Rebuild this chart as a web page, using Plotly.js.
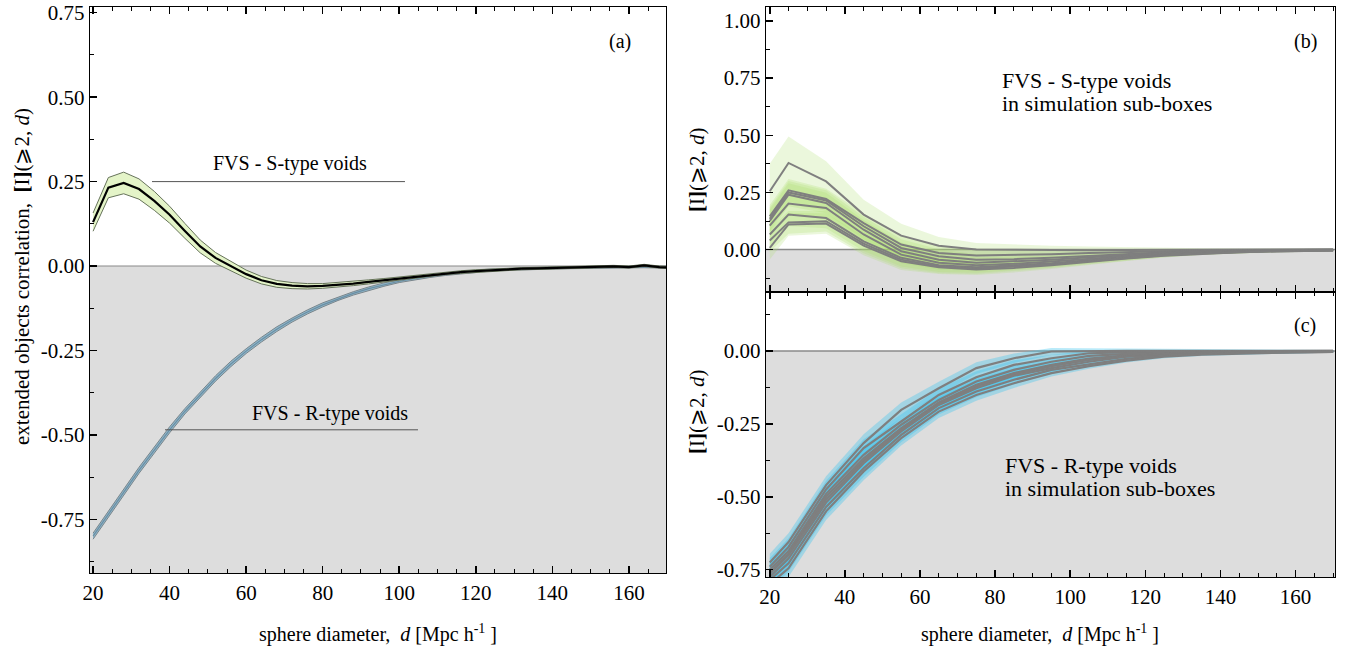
<!DOCTYPE html>
<html>
<head>
<meta charset="utf-8">
<script src="https://cdn.plot.ly/plotly-3.0.1.min.js"></script>
<style>html,body{margin:0;padding:0;background:#fff;}#chart{width:1349px;height:648px;}</style>
</head>
<body>
<div id="chart"></div>
<script>
// ---------- Panel (a): full-volume statistics ----------
const dA = [20,24,28,32,36,40,44,48,52,56,60,64,68,72,76,80,84,88,92,96,100,104,108,112,116,120,124,128,132,136,140,144,148,152,156,160,164,168,170];
const sMean = [0.13,0.232,0.246,0.228,0.193,0.152,0.104,0.058,0.024,0.0,-0.024,-0.042,-0.053,-0.058,-0.060,-0.059,-0.056,-0.052,-0.047,-0.042,-0.037,-0.032,-0.026,-0.021,-0.018,-0.015,-0.012,-0.010,-0.008,-0.007,-0.006,-0.005,-0.004,-0.003,-0.001,-0.003,0.002,-0.003,-0.004];
const sErr = [0.027,0.030,0.032,0.030,0.028,0.025,0.022,0.019,0.016,0.014,0.012,0.011,0.010,0.009,0.008,0.007,0.007,0.006,0.006,0.005,0.005,0.005,0.004,0.004,0.004,0.004,0.004,0.003,0.003,0.003,0.003,0.003,0.003,0.003,0.003,0.003,0.003,0.003,0.003];
const rMean = [-0.80,-0.735,-0.67,-0.605,-0.545,-0.485,-0.43,-0.38,-0.333,-0.29,-0.252,-0.218,-0.187,-0.16,-0.136,-0.115,-0.097,-0.081,-0.067,-0.055,-0.045,-0.037,-0.030,-0.024,-0.019,-0.015,-0.012,-0.010,-0.008,-0.007,-0.006,-0.005,-0.004,-0.003,-0.002,-0.002,-0.002,-0.003,-0.003];
const rErr = [0.009,0.009,0.009,0.009,0.009,0.009,0.008,0.008,0.008,0.008,0.007,0.007,0.007,0.006,0.006,0.006,0.005,0.005,0.005,0.005,0.004,0.004,0.004,0.004,0.004,0.003,0.003,0.003,0.003,0.003,0.003,0.003,0.003,0.003,0.003,0.003,0.003,0.003,0.003];

// ---------- Panels (b), (c): simulation sub-boxes ----------
const dSub = [20,25,35,45,55,65,75,85,95,105,115,125,135,145,155,165,170];
const sBox = [
  [0.255,0.379,0.298,0.153,0.061,0.017,0.0,-0.002,-0.003,-0.003,-0.002,-0.002,-0.001,0.0,0.0,0.001,0.001],
  [0.145,0.259,0.221,0.116,0.022,-0.015,-0.026,-0.024,-0.020,-0.015,-0.010,-0.007,-0.004,-0.003,-0.002,-0.001,-0.001],
  [0.134,0.250,0.215,0.102,0.007,-0.029,-0.044,-0.042,-0.036,-0.027,-0.019,-0.012,-0.008,-0.005,-0.003,-0.002,-0.002],
  [0.125,0.240,0.204,0.087,-0.007,-0.044,-0.058,-0.052,-0.044,-0.034,-0.024,-0.016,-0.010,-0.006,-0.004,-0.003,-0.002],
  [0.105,0.201,0.182,0.066,-0.022,-0.058,-0.068,-0.062,-0.052,-0.040,-0.029,-0.020,-0.013,-0.008,-0.005,-0.003,-0.003],
  [0.066,0.153,0.138,0.036,-0.036,-0.068,-0.077,-0.070,-0.060,-0.047,-0.034,-0.023,-0.015,-0.010,-0.006,-0.004,-0.004],
  [0.040,0.119,0.124,0.026,-0.044,-0.073,-0.083,-0.075,-0.064,-0.050,-0.037,-0.025,-0.017,-0.011,-0.007,-0.005,-0.004],
  [0.007,0.110,0.114,0.017,-0.051,-0.077,-0.087,-0.080,-0.068,-0.053,-0.039,-0.027,-0.018,-0.012,-0.008,-0.005,-0.004]
];
const sBoxErrTop = [0.12,0.116,0.088,0.065,0.052,0.038,0.029,0.024,0.020,0.016,0.012,0.009,0.007,0.005,0.004,0.004,0.004];
const sBoxErr = [0.05,0.050,0.045,0.042,0.038,0.030,0.024,0.020,0.017,0.014,0.011,0.008,0.006,0.005,0.004,0.003,0.003];
const rBox = [
  [-0.725,-0.655,-0.460,-0.316,-0.202,-0.128,-0.059,-0.025,-0.002,0.0,0.0,0.0,0.0,0.0,0.0,0.0,0.0],
  [-0.740,-0.672,-0.475,-0.333,-0.242,-0.151,-0.090,-0.048,-0.025,-0.008,-0.005,-0.003,-0.002,-0.001,-0.001,0.0,0.0],
  [-0.750,-0.686,-0.490,-0.356,-0.253,-0.168,-0.105,-0.065,-0.037,-0.017,-0.010,-0.006,-0.004,-0.003,-0.002,-0.001,-0.001],
  [-0.760,-0.695,-0.500,-0.368,-0.265,-0.177,-0.116,-0.076,-0.048,-0.026,-0.015,-0.009,-0.006,-0.004,-0.003,-0.002,-0.002],
  [-0.765,-0.700,-0.510,-0.377,-0.270,-0.182,-0.122,-0.080,-0.052,-0.031,-0.018,-0.011,-0.007,-0.005,-0.003,-0.002,-0.002],
  [-0.775,-0.712,-0.520,-0.385,-0.276,-0.185,-0.128,-0.085,-0.059,-0.037,-0.020,-0.013,-0.008,-0.005,-0.004,-0.003,-0.002],
  [-0.785,-0.728,-0.535,-0.402,-0.288,-0.196,-0.139,-0.099,-0.065,-0.045,-0.027,-0.016,-0.010,-0.007,-0.005,-0.003,-0.003],
  [-0.800,-0.745,-0.550,-0.413,-0.299,-0.208,-0.151,-0.111,-0.076,-0.052,-0.033,-0.020,-0.013,-0.009,-0.006,-0.004,-0.003]
];
const rBoxErr = [0.03,0.03,0.03,0.03,0.025,0.022,0.02,0.016,0.012,0.009,0.007,0.005,0.004,0.004,0.003,0.003,0.003];

// ---------- tick labels ----------
const xTickVals = [20,40,60,80,100,120,140,160];
const xTickText = ['20','40','60','80','100','120','140','160'];
const yTickValsA = [-0.75,-0.5,-0.25,0,0.25,0.5,0.75];
const yTickTextA = ['-0.75','-0.50','-0.25','0.00','0.25','0.50','0.75'];
const yTickValsB = [0,0.25,0.5,0.75,1.0];
const yTickTextB = ['0.00','0.25','0.50','0.75','1.00'];
const yTickValsC = [-0.75,-0.5,-0.25,0];
const yTickTextC = ['-0.75','-0.50','-0.25','0.00'];

const FONT = 'Liberation Serif, Times New Roman, serif';
const traces = [];

function band(x, mean, err, xa, ya, fill, edge, edgeW) {
  const up = mean.map((v,i)=>v+err[i]);
  const lo = mean.map((v,i)=>v-err[i]);
  traces.push({x:x, y:up, xaxis:xa, yaxis:ya, mode:'lines', line:{color:edge, width:edgeW}, hoverinfo:'skip', showlegend:false});
  traces.push({x:x, y:lo, xaxis:xa, yaxis:ya, mode:'lines', line:{color:edge, width:edgeW}, fill:'tonexty', fillcolor:fill, hoverinfo:'skip', showlegend:false});
}
function line(x, y, xa, ya, color, w) {
  traces.push({x:x, y:y, xaxis:xa, yaxis:ya, mode:'lines', line:{color:color, width:w}, hoverinfo:'skip', showlegend:false});
}

// panel (a)
band(dA, rMean, rErr, 'x', 'y', '#8fb8cc', '#7a858b', 1);
line(dA, rMean, 'x', 'y', '#6b8ea3', 1.2);
band(dA, sMean, sErr, 'x', 'y', '#e4f4c8', '#66735a', 1);
line(dA, sMean, 'x', 'y', '#000000', 2.2);

// panel (b)
sBox.forEach((s,k)=>{
  band(dSub, s, k===0 ? sBoxErrTop : sBoxErr, 'x2', 'y2', 'rgba(170,222,110,0.24)', 'rgba(0,0,0,0)', 0);
});
sBox.forEach(s=>line(dSub, s, 'x2', 'y2', '#7f7f7f', 2));

// panel (c)
rBox.forEach(s=>{
  band(dSub, s, rBoxErr, 'x3', 'y3', 'rgba(60,198,238,0.36)', 'rgba(0,0,0,0)', 0);
});
rBox.forEach(s=>line(dSub, s, 'x3', 'y3', '#7f7f7f', 2.2));

const W = 1349, H = 648;
const px = v => v / W, py = v => 1 - v / H;

const tickFont = {family: FONT, size: 21, color: '#000'};
function xAxis(dom, anchor, range, showLabels) {
  return {domain: dom, anchor: anchor, range: range, showgrid: false, zeroline: false,
    showline: true, linecolor: '#000', linewidth: 1.3, mirror: 'ticks',
    ticks: 'inside', ticklen: 7, tickwidth: 1.5, tickcolor: '#000',
    tickmode: 'array', tickvals: xTickVals, ticktext: xTickText, showticklabels: showLabels,
    tickfont: tickFont,
    minor: {tickmode: 'linear', tick0: 0, dtick: 5, ticks: 'inside', ticklen: 4, tickwidth: 1, tickcolor: '#000'}};
}
function yAxis(dom, anchor, range, vals, text) {
  return {domain: dom, anchor: anchor, range: range, showgrid: false, zeroline: false,
    showline: true, linecolor: '#000', linewidth: 1.3, mirror: true,
    ticks: 'inside', ticklen: 7, tickwidth: 1.5, tickcolor: '#000',
    tickmode: 'array', tickvals: vals, ticktext: text, tickfont: tickFont,
    minor: {tickmode: 'linear', tick0: 0, dtick: 0.125, ticks: 'inside', ticklen: 4, tickwidth: 1, tickcolor: '#000'}};
}

const yRangeA = [-0.909, 0.767], yRangeB = [-0.1855, 1.061], yRangeC = [-0.775, 0.202];
const yTitle = '<b>[</b>Ι<b>]</b>(⩾2, <i>d</i>)';
function note(x, y, text, size, anchor, extra) {
  return Object.assign({xref:'paper', yref:'paper', x:px(x), y:py(y), text:text, showarrow:false,
    font:{family:FONT, size:size, color:'#000'}, xanchor:anchor, yanchor:'middle'}, extra || {});
}

const layout = {
  width: W, height: H,
  margin: {l: 0, r: 0, t: 0, b: 0},
  paper_bgcolor: '#fff', plot_bgcolor: '#fff',
  showlegend: false,
  font: {family: FONT, color: '#000'},
  xaxis: xAxis([px(90), px(666)], 'y', [19.2, 169.7], true),
  yaxis: yAxis([py(573), py(7)], 'x', yRangeA, yTickValsA, yTickTextA),
  xaxis2: xAxis([px(766), px(1335)], 'y2', [19, 170.5], false),
  yaxis2: yAxis([py(292), py(7)], 'x2', yRangeB, yTickValsB, yTickTextB),
  xaxis3: xAxis([px(766), px(1335)], 'y3', [19, 170.5], true),
  yaxis3: yAxis([py(577), py(292)], 'x3', yRangeC, yTickValsC, yTickTextC),
  shapes: [
    {type:'rect', layer:'below', xref:'x domain', yref:'y', x0:0, x1:1, y0:yRangeA[0], y1:0, fillcolor:'#dddddd', line:{width:0}},
    {type:'rect', layer:'below', xref:'x2 domain', yref:'y2', x0:0, x1:1, y0:yRangeB[0], y1:0, fillcolor:'#dddddd', line:{width:0}},
    {type:'rect', layer:'below', xref:'x3 domain', yref:'y3', x0:0, x1:1, y0:yRangeC[0], y1:0, fillcolor:'#dddddd', line:{width:0}},
    {type:'line', layer:'below', xref:'x domain', yref:'y', x0:0, x1:1, y0:0, y1:0, line:{color:'#8a8a8a', width:1.2}},
    {type:'line', layer:'below', xref:'x2 domain', yref:'y2', x0:0, x1:1, y0:0, y1:0, line:{color:'#8a8a8a', width:1.5}},
    {type:'line', layer:'below', xref:'x3 domain', yref:'y3', x0:0, x1:1, y0:0, y1:0, line:{color:'#8a8a8a', width:1.5}},
    {type:'line', xref:'x', yref:'y', x0:35.4, x1:101.5, y0:0.25, y1:0.25, line:{color:'#555', width:1}},
    {type:'line', xref:'x', yref:'y', x0:38.8, x1:104.9, y0:-0.485, y1:-0.485, line:{color:'#555', width:1}}
  ],
  annotations: [
    note(620, 42, '(a)', 20, 'center'),
    note(1305, 42, '(b)', 20, 'center'),
    note(1305, 325, '(c)', 20, 'center'),
    note(290, 163, 'FVS - S-type voids', 20, 'center'),
    note(330, 414, 'FVS - R-type voids', 20, 'center'),
    note(1000, 80, 'FVS - S-type voids', 22, 'left'),
    note(1000, 103, 'in simulation sub-boxes', 22, 'left'),
    note(1003, 465, 'FVS - R-type voids', 22, 'left'),
    note(1003, 488, 'in simulation sub-boxes', 22, 'left'),
    note(378, 633, 'sphere diameter,  <i>d</i> [Mpc h<sup>-1</sup> ]', 20, 'center'),
    note(1040, 633, 'sphere diameter,  <i>d</i> [Mpc h<sup>-1</sup> ]', 20, 'center'),
    note(22, 277, 'extended objects correlation,  ' + yTitle, 21, 'center', {textangle:-90}),
    note(697, 170, yTitle, 21, 'center', {textangle:-90}),
    note(697, 412, yTitle, 21, 'center', {textangle:-90})
  ]
};

Plotly.newPlot('chart', traces, layout, {staticPlot: true, displayModeBar: false});
</script>
</body>
</html>
